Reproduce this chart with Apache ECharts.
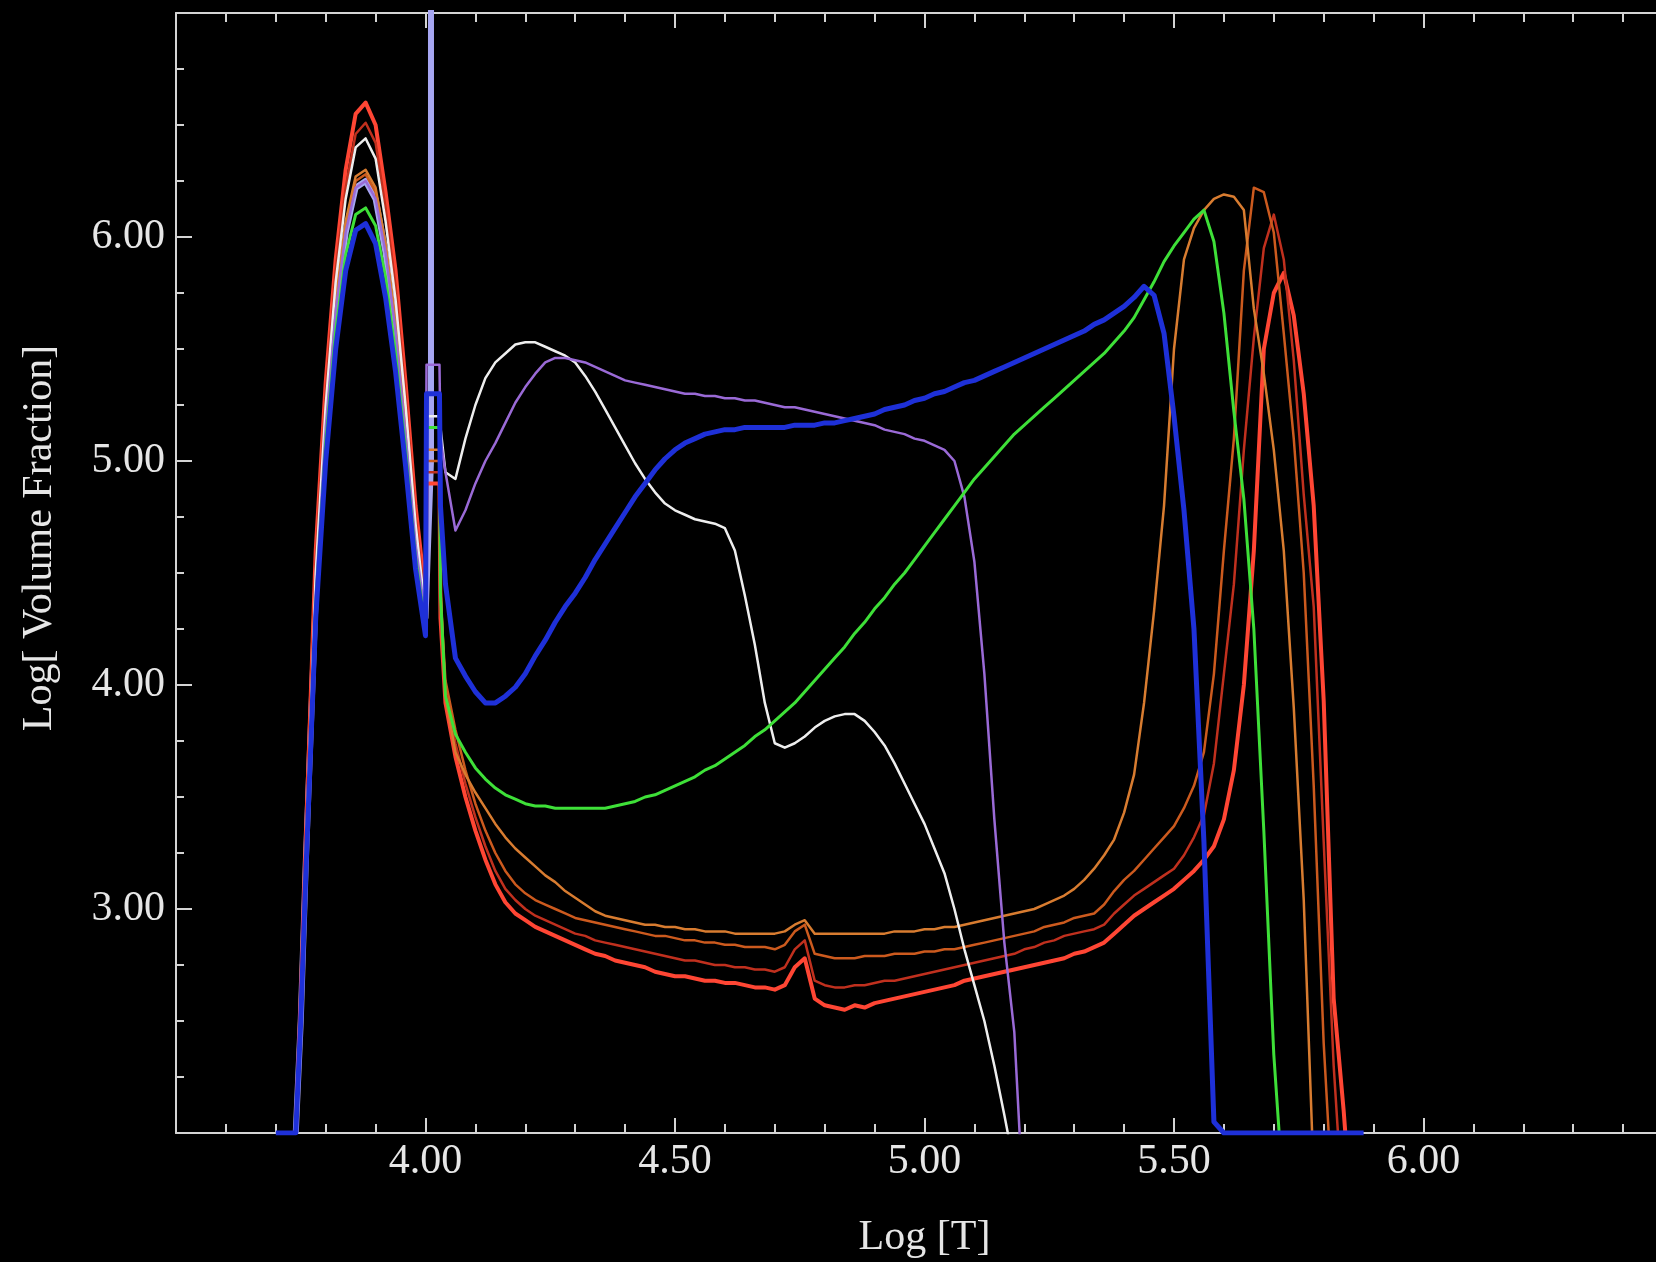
<!DOCTYPE html>
<html><head><meta charset="utf-8">
<script src="https://cdn.jsdelivr.net/npm/echarts@6/dist/echarts.min.js"></script>
<style>html,body{margin:0;padding:0;background:#000;}#chart{width:1656px;height:1262px;}</style>
</head><body><div id="chart"></div>
<script>
// Shared Log[T] sampling grid
const logT = [3.70,3.74,3.75,3.76,3.78,3.80,3.82,3.84,3.86,3.88,3.90,3.92,3.94,3.96,3.98,4.00,
  4.002,4.028,4.03,
  4.04,4.06,4.08,4.10,4.12,4.14,4.16,4.18,4.20,4.22,
  4.24,4.26,4.28,4.30,4.32,4.34,4.36,4.38,4.40,4.42,
  4.44,4.46,4.48,4.50,4.52,4.54,4.56,4.58,4.60,4.62,
  4.64,4.66,4.68,4.70,4.72,4.74,4.76,4.78,4.80,4.82,
  4.84,4.86,4.88,4.90,4.92,4.94,4.96,4.98,5.00,5.02,
  5.04,5.06,5.08,5.10,5.12,5.14,5.16,5.18,5.20,5.22,
  5.24,5.26,5.28,5.30,5.32,5.34,5.36,5.38,5.40,5.42,
  5.44,5.46,5.48,5.50,5.52,5.54,5.56,5.58,5.60,5.62,
  5.64,5.66,5.68,5.70,5.72,5.74,5.76,5.78,5.80,5.82,
  5.84,5.86,5.88];

const redV = [null,2.0,2.6,3.3,4.6,5.35,5.9,6.3,6.55,6.6,6.5,6.2,5.85,5.35,4.8,4.4,
  4.9,4.9,4.3,
  3.92,3.68,3.5,3.35,3.22,3.11,3.03,2.98,2.95,2.92,
  2.9,2.88,2.86,2.84,2.82,2.8,2.79,2.77,2.76,2.75,
  2.74,2.72,2.71,2.7,2.7,2.69,2.68,2.68,2.67,2.67,
  2.66,2.65,2.65,2.64,2.66,2.74,2.78,2.6,2.57,2.56,
  2.55,2.57,2.56,2.58,2.59,2.6,2.61,2.62,2.63,2.64,
  2.65,2.66,2.68,2.69,2.7,2.71,2.72,2.73,2.74,2.75,
  2.76,2.77,2.78,2.8,2.81,2.83,2.85,2.89,2.93,2.97,
  3.0,3.03,3.06,3.09,3.13,3.17,3.22,3.28,3.4,3.62,
  4.0,4.6,5.5,5.75,5.84,5.65,5.3,4.8,3.93,2.6,
  2.1,1.5,null];

const darkRedV = [null,2.0,2.6,3.3,4.55,5.3,5.85,6.22,6.46,6.51,6.42,6.13,5.78,5.3,4.75,4.35,
  4.95,4.95,4.35,
  3.98,3.74,3.56,3.41,3.28,3.17,3.09,3.04,3.0,2.97,
  2.95,2.93,2.91,2.89,2.88,2.86,2.85,2.84,2.83,2.82,
  2.81,2.8,2.79,2.78,2.77,2.77,2.76,2.75,2.75,2.74,
  2.74,2.73,2.73,2.72,2.74,2.82,2.86,2.68,2.66,2.65,
  2.65,2.66,2.66,2.67,2.68,2.68,2.69,2.7,2.71,2.72,
  2.73,2.74,2.75,2.76,2.77,2.78,2.79,2.8,2.82,2.83,
  2.85,2.86,2.88,2.89,2.9,2.91,2.93,2.98,3.02,3.06,
  3.09,3.12,3.15,3.18,3.24,3.32,3.42,3.65,4.05,4.45,
  5.05,5.55,5.95,6.1,5.9,5.45,4.85,4.35,3.3,2.3,
  1.6,null,null];

const orangeBV = [null,2.0,2.55,3.2,4.45,5.18,5.7,6.05,6.25,6.28,6.2,5.95,5.6,5.15,4.66,4.3,
  5.0,5.0,4.4,
  4.02,3.8,3.62,3.47,3.35,3.25,3.17,3.11,3.07,3.04,
  3.02,3.0,2.98,2.96,2.95,2.94,2.93,2.92,2.91,2.9,
  2.89,2.88,2.88,2.87,2.86,2.86,2.85,2.85,2.84,2.84,
  2.83,2.83,2.83,2.82,2.84,2.9,2.93,2.8,2.79,2.78,
  2.78,2.78,2.79,2.79,2.79,2.8,2.8,2.8,2.81,2.81,
  2.82,2.82,2.83,2.84,2.85,2.86,2.87,2.88,2.89,2.9,
  2.92,2.93,2.94,2.96,2.97,2.98,3.02,3.08,3.13,3.17,
  3.22,3.27,3.32,3.37,3.45,3.55,3.7,4.05,4.6,5.1,
  5.85,6.22,6.2,6.02,5.57,5.1,4.5,3.55,2.4,1.6,
  null,null,null];

const orangeAV = [null,2.0,2.55,3.25,4.45,5.2,5.72,6.07,6.27,6.3,6.22,5.97,5.63,5.18,4.68,4.3,
  5.05,5.05,4.45,
  3.95,3.7,3.6,3.52,3.45,3.38,3.32,3.27,3.23,3.19,
  3.15,3.12,3.08,3.05,3.02,2.99,2.97,2.96,2.95,2.94,
  2.93,2.93,2.92,2.92,2.91,2.91,2.9,2.9,2.9,2.89,
  2.89,2.89,2.89,2.89,2.9,2.93,2.95,2.89,2.89,2.89,
  2.89,2.89,2.89,2.89,2.89,2.9,2.9,2.9,2.91,2.91,
  2.92,2.92,2.93,2.94,2.95,2.96,2.97,2.98,2.99,3.0,
  3.02,3.04,3.06,3.09,3.13,3.18,3.24,3.31,3.43,3.6,
  3.92,4.33,4.8,5.5,5.9,6.04,6.12,6.17,6.19,6.18,
  6.12,5.68,5.39,5.05,4.6,3.9,3.04,1.8,null,null,
  null,null,null];

const whiteV = [null,2.0,2.55,3.25,4.5,5.25,5.8,6.17,6.4,6.44,6.35,6.07,5.72,5.25,4.72,4.32,
  5.2,5.2,5.15,
  4.95,4.92,5.1,5.25,5.37,5.44,5.48,5.52,5.53,5.53,
  5.51,5.49,5.47,5.44,5.38,5.31,5.23,5.15,5.07,4.99,
  4.92,4.86,4.81,4.78,4.76,4.74,4.73,4.72,4.7,4.6,
  4.4,4.18,3.92,3.74,3.72,3.74,3.77,3.81,3.84,3.86,
  3.87,3.87,3.84,3.79,3.73,3.65,3.56,3.47,3.38,3.27,
  3.16,3.0,2.82,2.66,2.5,2.3,2.08,1.85,null,null,
  null,null,null,null,null,null,null,null,null,null,
  null,null,null,null,null,null,null,null,null,null,
  null,null,null,null,null,null,null,null,null,null,
  null,null,null];

const purpleV = [null,2.0,2.5,3.2,4.4,5.15,5.67,6.02,6.22,6.25,6.17,5.93,5.58,5.12,4.63,4.3,
  5.43,5.43,5.1,
  4.95,4.69,4.78,4.9,5.0,5.08,5.17,5.26,5.33,5.39,
  5.44,5.46,5.46,5.45,5.44,5.42,5.4,5.38,5.36,5.35,
  5.34,5.33,5.32,5.31,5.3,5.3,5.29,5.29,5.28,5.28,
  5.27,5.27,5.26,5.25,5.24,5.24,5.23,5.22,5.21,5.2,
  5.19,5.18,5.17,5.16,5.14,5.13,5.12,5.1,5.09,5.07,
  5.05,5.0,4.84,4.55,4.05,3.4,2.85,2.45,1.6,null,
  null,null,null,null,null,null,null,null,null,null,
  null,null,null,null,null,null,null,null,null,null,
  null,null,null,null,null,null,null,null,null,null,
  null,null,null];

const greenV = [null,2.0,2.5,3.2,4.35,5.08,5.58,5.92,6.1,6.13,6.05,5.82,5.48,5.05,4.57,4.25,
  5.15,5.15,4.4,
  3.95,3.78,3.7,3.63,3.58,3.54,3.51,3.49,3.47,3.46,
  3.46,3.45,3.45,3.45,3.45,3.45,3.45,3.46,3.47,3.48,
  3.5,3.51,3.53,3.55,3.57,3.59,3.62,3.64,3.67,3.7,
  3.73,3.77,3.8,3.84,3.88,3.92,3.97,4.02,4.07,4.12,
  4.17,4.23,4.28,4.34,4.39,4.45,4.5,4.56,4.62,4.68,
  4.74,4.8,4.86,4.92,4.97,5.02,5.07,5.12,5.16,5.2,
  5.24,5.28,5.32,5.36,5.4,5.44,5.48,5.53,5.58,5.64,
  5.72,5.8,5.89,5.96,6.02,6.08,6.12,5.98,5.66,5.22,
  4.83,4.25,3.35,2.35,1.7,null,null,null,null,null,
  null,null,null];

const blueV = [2.0,2.0,2.5,3.15,4.3,5.0,5.5,5.85,6.03,6.06,5.97,5.73,5.4,4.98,4.52,4.22,
  5.3,5.3,4.8,
  4.45,4.12,4.04,3.97,3.92,3.92,3.95,3.99,4.05,4.13,
  4.2,4.28,4.35,4.41,4.48,4.56,4.63,4.7,4.77,4.84,
  4.9,4.96,5.01,5.05,5.08,5.1,5.12,5.13,5.14,5.14,
  5.15,5.15,5.15,5.15,5.15,5.16,5.16,5.16,5.17,5.17,
  5.18,5.19,5.2,5.21,5.23,5.24,5.25,5.27,5.28,5.3,
  5.31,5.33,5.35,5.36,5.38,5.4,5.42,5.44,5.46,5.48,
  5.5,5.52,5.54,5.56,5.58,5.61,5.63,5.66,5.69,5.73,
  5.78,5.74,5.57,5.2,4.78,4.25,3.3,2.05,2.0,2.0,
  2.0,2.0,2.0,2.0,2.0,2.0,2.0,2.0,2.0,2.0,
  2.0,2.0,2.0];

// Lavender series: cool peak plus the narrow spike near Log T = 4.01
const lavT = [3.74,3.75,3.76,3.78,3.80,3.82,3.84,3.86,3.88,3.90,3.92,3.94,3.96,3.98,4.00,4.011,4.011];
const lavV = [2.0,2.5,3.2,4.4,5.15,5.67,6.02,6.22,6.25,6.17,5.93,5.58,5.12,4.63,4.3,5.0,7.6];

const xTicks = [4.0, 4.5, 5.0, 5.5, 6.0];
const yTicks = [3.0, 4.0, 5.0, 6.0];

function pairs(xs, ys) { return xs.map((x, i) => [x, ys[i]]); }

const axisColor = '#d4d4d4';
const textColor = '#e6e6e6';
const fontFam = '"Liberation Serif", "DejaVu Serif", "Times New Roman", serif';

function xAxisCfg(pos, labels) {
  return {
    type: 'value', min: 3.5, max: 6.5, interval: 0.5, position: pos,
    axisLine: { show: true, onZero: false, lineStyle: { color: axisColor, width: 2 } },
    axisTick: { show: true, inside: true, length: 15, lineStyle: { color: axisColor, width: 2 } },
    minorTick: { show: true, splitNumber: 5, length: 9, lineStyle: { color: axisColor, width: 2 } },
    splitLine: { show: false }, minorSplitLine: { show: false },
    axisLabel: {
      show: labels, margin: 8, color: textColor, fontSize: 42, fontFamily: fontFam,
      formatter: v => xTicks.some(t => Math.abs(t - v) < 1e-6) ? v.toFixed(2) : ''
    }
  };
}
function yAxisCfg(pos, labels) {
  return {
    type: 'value', min: 2, max: 7, interval: 1, position: pos,
    axisLine: { show: true, onZero: false, lineStyle: { color: axisColor, width: 2 } },
    axisTick: { show: true, inside: true, length: 16, lineStyle: { color: axisColor, width: 2 } },
    minorTick: { show: true, splitNumber: 4, length: 8, lineStyle: { color: axisColor, width: 2 } },
    splitLine: { show: false }, minorSplitLine: { show: false },
    axisLabel: {
      show: labels, margin: 11, color: textColor, fontSize: 42, fontFamily: fontFam,
      formatter: v => yTicks.some(t => Math.abs(t - v) < 1e-6) ? v.toFixed(2) : ''
    }
  };
}

const xb = xAxisCfg('bottom', true);
xb.name = 'Log [T]'; xb.nameLocation = 'middle'; xb.nameGap = 84;
xb.nameTextStyle = { color: textColor, fontSize: 42, fontFamily: fontFam };
const xt = xAxisCfg('top', false);
const yl = yAxisCfg('left', true);
yl.name = 'Log[ Volume Fraction]'; yl.nameLocation = 'middle'; yl.nameGap = 115; yl.nameRotate = 90;
yl.nameTextStyle = { color: textColor, fontSize: 42, fontFamily: fontFam, padding: [0, 0, 0, 70] };
const yr = yAxisCfg('right', false);

function lineSeries(name, xs, ys, color, width) {
  return {
    name, type: 'line', data: pairs(xs, ys), xAxisIndex: 0, yAxisIndex: 0,
    showSymbol: false, symbol: 'none', connectNulls: false, clip: true,
    lineStyle: { color, width, join: 'round' }, emphasis: { disabled: true }
  };
}

const chart = echarts.init(document.getElementById('chart'), null, { renderer: 'canvas' });
chart.setOption({
  backgroundColor: '#000000',
  animation: false,
  grid: { left: 176, top: 13, width: 1497, height: 1120, containLabel: false, outerBoundsMode: 'none' },
  xAxis: [xb, xt],
  yAxis: [yl, yr],
  series: [
    lineSeries('lavender', lavT, lavV, '#a6a6f2', 6),
    lineSeries('red', logT, redV, '#ff4634', 4),
    lineSeries('darkred', logT, darkRedV, '#c0301e', 2.5),
    lineSeries('orangeB', logT, orangeBV, '#cc5a1e', 2.5),
    lineSeries('orangeA', logT, orangeAV, '#d87c30', 2.5),
    lineSeries('white', logT, whiteV, '#eeeeee', 2.5),
    lineSeries('purple', logT, purpleV, '#9a6ad6', 2.5),
    lineSeries('green', logT, greenV, '#3ee038', 3),
    lineSeries('blue', logT, blueV, '#1e30d8', 5)
  ]
});
</script></body></html>
